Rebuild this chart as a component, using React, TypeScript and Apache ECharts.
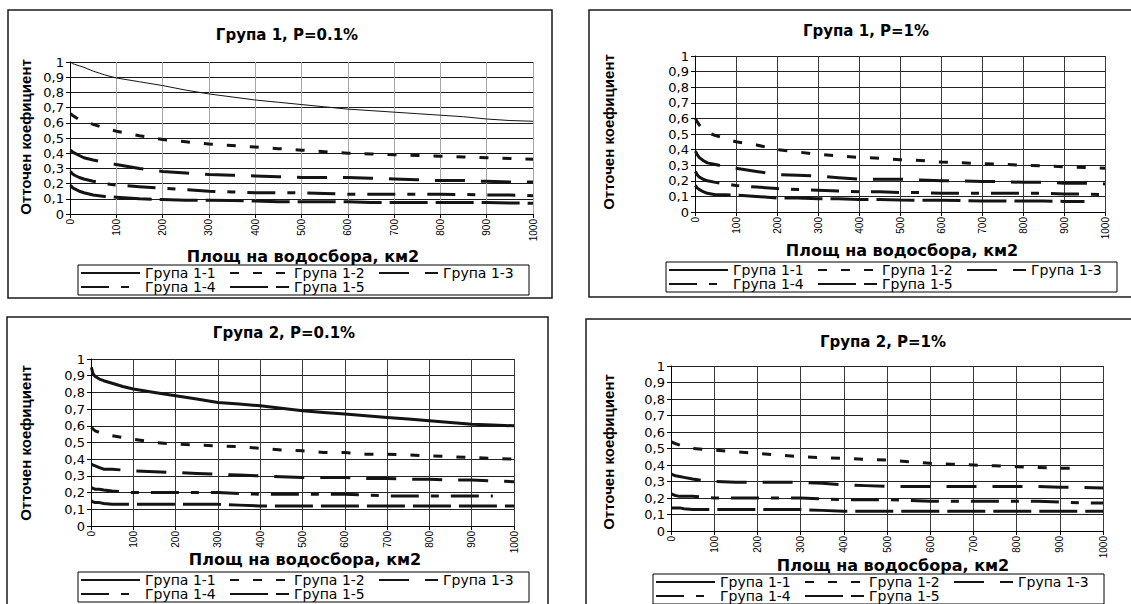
import React, { useEffect, useRef } from "react";
import * as echarts from "echarts";

// ---------------- data ----------------
const AREA_KM2 = [1, 5, 10, 20, 30, 50, 75, 100, 150, 200, 250, 300, 350, 400, 450, 500, 550, 600, 650, 700, 750, 800, 850, 900, 950, 1000];

const SERIES_NAMES = ["Група 1-1", "Група 1-2", "Група 1-3", "Група 1-4", "Група 1-5"];
const PANEL_TITLES = ["Група 1, P=0.1%", "Група 1, P=1%", "Група 2, P=0.1%", "Група 2, P=1%"];
const X_AXIS_TITLE = "Площ на водосбора, км2";
const Y_AXIS_TITLE = "Отточен коефициент";
const Y_TICK_LABELS = ["0", "0,1", "0,2", "0,3", "0,4", "0,5", "0,6", "0,7", "0,8", "0,9", "1"];
const X_TICK_LABELS = ["0", "100", "200", "300", "400", "500", "600", "700", "800", "900", "1000"];

// Група 1, P=0.1%
const G1P01_S1 = [1.0, 0.99, 0.985, 0.975, 0.965, 0.94, 0.915, 0.895, 0.87, 0.845, 0.815, 0.79, 0.77, 0.75, 0.735, 0.72, 0.705, 0.69, 0.68, 0.67, 0.66, 0.65, 0.64, 0.625, 0.615, 0.61];
const G1P01_S2 = [0.66, 0.65, 0.64, 0.62, 0.61, 0.59, 0.565, 0.545, 0.515, 0.49, 0.475, 0.46, 0.45, 0.44, 0.43, 0.42, 0.41, 0.4, 0.395, 0.39, 0.385, 0.38, 0.375, 0.37, 0.365, 0.36];
const G1P01_S3 = [0.42, 0.41, 0.4, 0.385, 0.37, 0.355, 0.34, 0.325, 0.3, 0.28, 0.27, 0.26, 0.255, 0.25, 0.245, 0.24, 0.24, 0.24, 0.235, 0.23, 0.225, 0.22, 0.22, 0.215, 0.21, 0.21];
const G1P01_S4 = [0.28, 0.265, 0.255, 0.24, 0.23, 0.215, 0.2, 0.19, 0.18, 0.17, 0.16, 0.15, 0.145, 0.14, 0.14, 0.14, 0.135, 0.13, 0.13, 0.13, 0.13, 0.13, 0.128, 0.125, 0.125, 0.12];
const G1P01_S5 = [0.19, 0.175, 0.165, 0.15, 0.14, 0.125, 0.115, 0.11, 0.1, 0.095, 0.09, 0.09, 0.088, 0.085, 0.08, 0.08, 0.08, 0.08, 0.075, 0.075, 0.075, 0.075, 0.075, 0.075, 0.073, 0.07];

// Група 1, P=1%
const G1P1_S2 = [0.6, 0.58, 0.56, 0.53, 0.51, 0.49, 0.47, 0.45, 0.43, 0.4, 0.385, 0.37, 0.36, 0.35, 0.345, 0.335, 0.33, 0.32, 0.315, 0.31, 0.305, 0.3, 0.295, 0.29, 0.285, 0.28];
const G1P1_S3 = [0.39, 0.37, 0.35, 0.33, 0.315, 0.305, 0.29, 0.28, 0.26, 0.24, 0.235, 0.23, 0.22, 0.21, 0.21, 0.21, 0.205, 0.2, 0.2, 0.195, 0.195, 0.19, 0.19, 0.185, 0.185, 0.18];
const G1P1_S4 = [0.26, 0.24, 0.225, 0.21, 0.2, 0.19, 0.18, 0.17, 0.16, 0.15, 0.145, 0.14, 0.135, 0.13, 0.13, 0.125, 0.125, 0.12, 0.12, 0.12, 0.12, 0.12, 0.12, 0.115, 0.115, 0.11];
const G1P1_S5 = [0.17, 0.155, 0.145, 0.13, 0.12, 0.11, 0.11, 0.108, 0.1, 0.09, 0.09, 0.085, 0.085, 0.08, 0.08, 0.077, 0.075, 0.075, 0.073, 0.07, 0.07, 0.07, 0.07, 0.068, 0.068, null];

// Група 2, P=0.1%
const G2P01_S1 = [0.95, 0.91, 0.895, 0.88, 0.87, 0.855, 0.835, 0.82, 0.8, 0.78, 0.76, 0.74, 0.73, 0.72, 0.705, 0.69, 0.68, 0.67, 0.66, 0.65, 0.64, 0.63, 0.62, 0.61, 0.605, 0.6];
const G2P01_S2 = [0.59, 0.58, 0.57, 0.56, 0.55, 0.54, 0.53, 0.52, 0.5, 0.49, 0.485, 0.48, 0.475, 0.465, 0.455, 0.45, 0.44, 0.44, 0.43, 0.43, 0.425, 0.42, 0.415, 0.41, 0.405, 0.4];
const G2P01_S3 = [0.37, 0.365, 0.36, 0.35, 0.34, 0.34, 0.335, 0.33, 0.325, 0.32, 0.315, 0.31, 0.305, 0.3, 0.295, 0.29, 0.29, 0.29, 0.285, 0.285, 0.28, 0.28, 0.275, 0.275, 0.27, 0.265];
const G2P01_S4 = [0.23, 0.225, 0.22, 0.22, 0.215, 0.21, 0.205, 0.2, 0.2, 0.2, 0.2, 0.2, 0.195, 0.19, 0.19, 0.19, 0.19, 0.19, 0.185, 0.18, 0.18, 0.18, 0.18, 0.18, 0.18, null];
const G2P01_S5 = [0.15, 0.145, 0.14, 0.14, 0.135, 0.13, 0.13, 0.13, 0.13, 0.13, 0.13, 0.13, 0.125, 0.12, 0.12, 0.12, 0.12, 0.12, 0.12, 0.12, 0.12, 0.12, 0.12, 0.12, 0.12, 0.12];

// Група 2, P=1%
const G2P1_S2 = [0.54, 0.535, 0.53, 0.52, 0.51, 0.5, 0.495, 0.49, 0.48, 0.47, 0.46, 0.45, 0.445, 0.44, 0.435, 0.43, 0.42, 0.41, 0.405, 0.4, 0.395, 0.39, 0.385, 0.38, 0.38, null];
const G2P1_S3 = [0.345, 0.34, 0.335, 0.33, 0.325, 0.315, 0.305, 0.3, 0.295, 0.295, 0.295, 0.295, 0.29, 0.28, 0.275, 0.27, 0.27, 0.27, 0.27, 0.27, 0.27, 0.27, 0.27, 0.265, 0.265, 0.26];
const G2P1_S4 = [0.225, 0.22, 0.215, 0.21, 0.21, 0.21, 0.205, 0.2, 0.2, 0.2, 0.2, 0.2, 0.195, 0.19, 0.19, 0.19, 0.185, 0.18, 0.18, 0.18, 0.18, 0.18, 0.18, 0.175, 0.17, 0.17];
const G2P1_S5 = [0.14, 0.14, 0.14, 0.14, 0.135, 0.13, 0.13, 0.13, 0.13, 0.13, 0.13, 0.13, 0.125, 0.12, 0.12, 0.12, 0.12, 0.12, 0.12, 0.12, 0.12, 0.12, 0.12, 0.12, 0.12, 0.12];

const PANEL_DATA: (Array<number | null> | null)[][] = [
  [G1P01_S1, G1P01_S2, G1P01_S3, G1P01_S4, G1P01_S5],
  [null, G1P1_S2, G1P1_S3, G1P1_S4, G1P1_S5],
  [G2P01_S1, G2P01_S2, G2P01_S3, G2P01_S4, G2P01_S5],
  [null, G2P1_S2, G2P1_S3, G2P1_S4, G2P1_S5],
];

// ---------------- styles / layout ----------------
const LINE_COLOR = "#141414";
const DASHES: any[] = ["solid", [9, 14], [30, 16], [28, 12, 8, 12], [38, 8]];

const LAYOUT = [
  { frame: [8, 10, 544, 288], grid: { left: 70, top: 62, width: 463, height: 152 }, title: [287, 35], yName: [25, 137], xName: [303, 256], legend: [78, 265], vGrid: "#a6a6a6", hGrid: "#1a1a1a", w1: 1 },
  { frame: [589, 10, 560, 287], grid: { left: 695, top: 56, width: 410, height: 156 }, title: [866, 31], yName: [608, 132], xName: [902, 250], legend: [666, 262], vGrid: "#3a3a3a", hGrid: "#222", w1: 1 },
  { frame: [7, 317, 541, 300], grid: { left: 91, top: 359, width: 423, height: 167 }, title: [284, 333], yName: [25, 443], xName: [305, 559], legend: [78, 572], vGrid: "#3a3a3a", hGrid: "#222", w1: 3 },
  { frame: [586, 319, 560, 300], grid: { left: 671, top: 366, width: 432, height: 165 }, title: [883, 342], yName: [608, 452], xName: [893, 565], legend: [653, 574], vGrid: "#3a3a3a", hGrid: "#222", w1: 3 },
];

const centered = { align: "center", verticalAlign: "middle", textAlign: "center", textVerticalAlign: "middle" };

function buildOption(): any {
  const series: any[] = [];
  PANEL_DATA.forEach((panel, i) => {
    panel.forEach((vals, k) => {
      if (!vals) return;
      series.push({
        type: "line",
        name: SERIES_NAMES[k],
        xAxisIndex: i,
        yAxisIndex: i,
        data: AREA_KM2.map((x, j) => [x, vals[j]]),
        symbol: "none",
        showSymbol: false,
        connectNulls: false,
        silent: true,
        lineStyle: { color: LINE_COLOR, width: k === 0 ? LAYOUT[i].w1 : 3, type: DASHES[k] },
        itemStyle: { color: LINE_COLOR },
      });
    });
  });

  const graphic: any[] = [];
  LAYOUT.forEach((l, i) => {
    graphic.push({
      type: "rect",
      silent: true,
      shape: { x: l.frame[0], y: l.frame[1], width: l.frame[2], height: l.frame[3] },
      style: { fill: "none", stroke: "#1a1a1a", lineWidth: 1.5 },
    });
    graphic.push({
      type: "text",
      x: l.title[0],
      y: l.title[1],
      style: { text: PANEL_TITLES[i], font: 'bold 15px "DejaVu Sans"', fill: "#000", ...centered },
    });
    graphic.push({
      type: "text",
      x: l.yName[0],
      y: l.yName[1],
      rotation: Math.PI / 2,
      style: { text: Y_AXIS_TITLE, font: 'bold 15px "Liberation Sans"', fill: "#000", ...centered },
    });
    graphic.push({
      type: "text",
      x: l.xName[0],
      y: l.xName[1],
      style: { text: X_AXIS_TITLE, font: 'bold 16px "DejaVu Sans"', fill: "#000", ...centered },
    });
  });

  return {
    animation: false,
    backgroundColor: "#fff",
    grid: LAYOUT.map((l) => ({ ...l.grid, containLabel: false })),
    xAxis: LAYOUT.map((l, i) => ({
      type: "value",
      gridIndex: i,
      min: 0,
      max: 1000,
      interval: 100,
      axisLine: { show: true, onZero: false, lineStyle: { color: "#000", width: 1 } },
      axisTick: { show: true, length: 4, lineStyle: { color: "#000" } },
      axisLabel: {
        rotate: 90,
        margin: 5,
        fontSize: 10,
        fontFamily: "Liberation Sans",
        color: "#000",
        formatter: (v: number) => X_TICK_LABELS[Math.round(v / 100)],
      },
      splitLine: { show: true, lineStyle: { color: l.vGrid, width: 1 } },
    })),
    yAxis: LAYOUT.map((l, i) => ({
      type: "value",
      gridIndex: i,
      min: 0,
      max: 1,
      interval: 0.1,
      axisLine: { show: true, onZero: false, lineStyle: { color: "#000", width: 1 } },
      axisTick: { show: true, length: 4, lineStyle: { color: "#000" } },
      axisLabel: {
        margin: 6,
        fontSize: 13,
        fontFamily: "DejaVu Sans",
        color: "#000",
        formatter: (v: number) => Y_TICK_LABELS[Math.round(v * 10)],
      },
      splitLine: { show: true, lineStyle: { color: l.hGrid, width: 1 } },
    })),
    legend: LAYOUT.map((l) => ({
      data: SERIES_NAMES,
      left: l.legend[0],
      top: l.legend[1],
      width: 470,
      orient: "horizontal",
      itemWidth: 59,
      itemHeight: 10,
      itemGap: 0,
      padding: [1, 2, 1, 2],
      borderColor: "#000",
      borderWidth: 1,
      backgroundColor: "#fff",
      selectedMode: false,
      itemStyle: { opacity: 0 },
      textStyle: { fontFamily: "DejaVu Sans", fontSize: 14, color: "#000", width: 84, lineHeight: 13 },
    })),
    series,
    graphic: { elements: graphic },
  };
}

export default function App() {
  const ref = useRef<HTMLDivElement>(null);
  useEffect(() => {
    if (!ref.current) return;
    const chart = echarts.init(ref.current, null, { renderer: "svg" });
    chart.setOption(buildOption());
    return () => chart.dispose();
  }, []);
  return (
    <div
      ref={ref}
      style={{ position: "fixed", left: 0, top: 0, width: 1131, height: 604, background: "#fff" }}
    />
  );
}
